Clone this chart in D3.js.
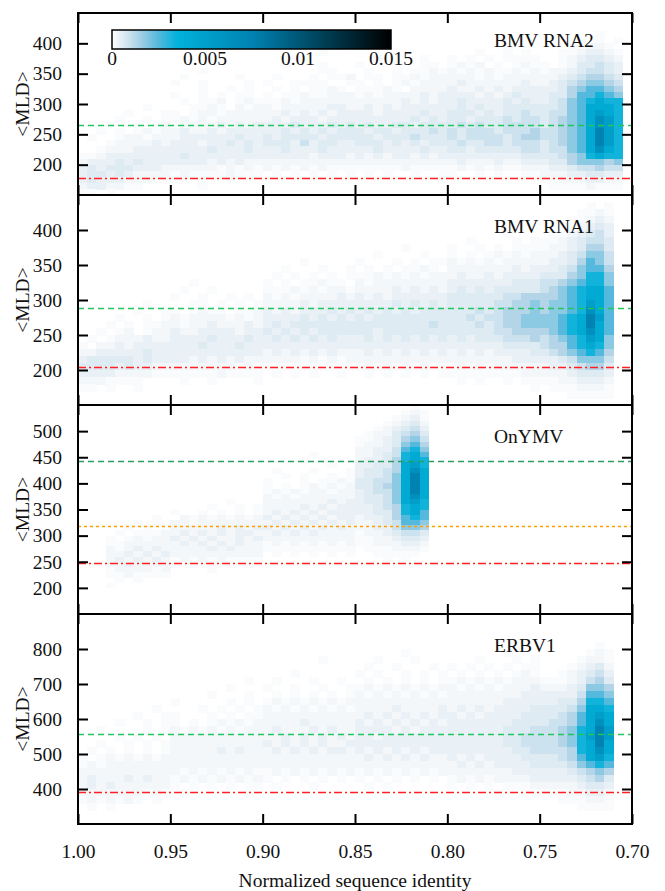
<!DOCTYPE html>
<html>
<head>
<meta charset="utf-8">
<script src="https://cdn.jsdelivr.net/npm/d3@7"></script>
<style>
body { margin: 0; background: #fff; }
svg text { font-family: "Liberation Serif", "Times New Roman", serif; fill: #111; }
</style>
</head>
<body>
<svg id="chart" width="665" height="891"></svg>
<script>
// x axis: normalized sequence identity, drawn reversed (1.00 on the left)
var xTicks = [1.00, 0.95, 0.90, 0.85, 0.80, 0.75, 0.70];
var binWidth = 0.005;   // one column of the 2D histogram

var panelNames = ["BMV RNA2", "BMV RNA1", "OnYMV", "ERBV1"];
var yDomains = [[150, 450], [150, 450], [150, 550], [300, 900]];
var yTicks = [
    [200, 250, 300, 350, 400],
    [200, 250, 300, 350, 400],
    [200, 250, 300, 350, 400, 450, 500],
    [400, 500, 600, 700, 800]
];
var rowSteps = [10, 10, 10, 20];   // <MLD> height of one histogram row

// horizontal reference lines (<MLD> values)
var redLines = [178, 205, 247, 391];
var greenLines = [266, 288, 443, 556];
var orangeLines = [null, null, 319, null];

// colour bar
var cbTicks = [0, 0.005, 0.01, 0.015];
var paletteStops = [0, 0.0002, 0.0006, 0.0013, 0.0025, 0.0035, 0.0075, 0.011, 0.015];
var paletteColors = ["#ffffff", "#f3f7fa", "#dfebf3", "#b3d5e7", "#55b8dd", "#00b2da", "#0082b2", "#00465f", "#000000"];

// density levels used in the row strings below
var levelChars = ".123456789abcdef";
var levelValues = [0, 0.0001, 0.0002, 0.0004, 0.0006, 0.0009, 0.0013, 0.0018, 0.0025, 0.0033, 0.0042, 0.0052, 0.0063, 0.0075, 0.0088, 0.0100];

// histogram rows, top row first; 60 columns from 1.00 down to 0.70 ("|" every 10 columns)
var rna2Rows = [
    "..........|..........|..........|..........|..........|..........",
    "..........|..........|..........|..........|..........|..........",
    "..........|..........|..........|..........|..........|..........",
    "..........|..........|..........|..........|..........|......1...",
    "..........|..........|..........|..........|..........|....1.1.1.",
    "..........|..........|..........|..........|......1...|...11221..",
    "..........|..........|......1...|..........|...1..1.1.|..1123321.",
    "..........|..........|....1.....|..1....1..|1.1.1.1111|..1234432.",
    "..........|..........|..1...1...|1...1..11.|1212.1.121|1.1244543.",
    "..........|...1......|......11..|.1..1.1121|2121211212|122345543.",
    "..........|.1.....1..|.1...1.112|.11.112122|2221212222|223456654.",
    "..........|1..1....1.|1..1111..1|1.1.121222|2322222232|234567765.",
    "..........|...1..1.1.|.1.1.1121.|11121.2222|3223232333|334678876.",
    "..........|1..1.1.11.|1.11211222|1212222323|3332323433|344688987.",
    "..........|.1.112.121|1121222222|2222232323|3433334343|345789a99.",
    ".......1..|..1121.212|2122222332|2323233333|3434334444|44578aaa9.",
    ".....1...1|1.12212222|2232323233|3323333433|4443434454|45578aba9.",
    "....1..1.1|1212122222|2323332333|3333334343|4434445455|45678acb9.",
    "...1..1.12|1222232323|3334333434|3433443444|4545445555|45678acb9.",
    "..1.1.1212|2322323333|3343434344|4344344454|5455545556|55678adb9.",
    ".1..122122|2333333433|4344443444|4434445444|5455554566|55678adb9.",
    "...1222232|3332334343|4443534433|4443434344|4544554555|45678adb9.",
    "..12223333|3333433343|3343334333|3343333433|4434444455|45578aca9.",
    "1123333333|3433333333|3333323332|3232332323|3333333344|445679a99.",
    "2333434333|3333232322|2222222222|2222222222|2322232233|344677767.",
    "3434443332|2222212121|2121212111|1111121111|1212121122|233455655.",
    "3443432222|1211112111|.1.1.1.1.1|.1.1..1..1|1..1.1..11|222334433.",
    "3433322211|11.1..1...|..........|.........1|..........|112223322.",
    "2332211...|...1......|..........|..........|..........|.11112111.",
    "11.1......|..........|..........|..........|..........|.........."
];

var rna1Rows = [
    "..........|..........|..........|..........|..........|..........",
    "..........|..........|..........|..........|..........|.....1.1..",
    "..........|..........|..........|..........|..........|....1121..",
    "..........|..........|..........|..........|..........|...11232..",
    "..........|..........|..........|..........|..........|..112343..",
    "..........|..........|..........|..........|......1...|.1123453..",
    "..........|..........|..........|..........|..1....1.1|11234554..",
    "..........|..........|..........|.....1....|1..1.1.111|12234664..",
    "..........|..........|..........|..1....1..|1.1.121212|22345775..",
    "..........|..........|....1.....|1...1.1.11|2121212222|23346875..",
    "..........|..........|..1...1..1|.1.1.1121.|2222222323|33457886..",
    "..........|..........|.1.1.1.1.1|1121212122|2322323333|44467997..",
    "..........|..1.......|1.1.11211.|2122222222|3333333444|55678997..",
    "..........|.1..1.....|1112121221|2222323232|3434344444|56789aa8..",
    "..........|1..1..1.1.|2121222232|3232333333|4444445566|66789aa8..",
    ".......1..|..11.1.1.1|2222323333|3333434343|4444455667|67789ba8..",
    "......1..1|1.1211.112|3232333434|3434343444|4445456667|67789ca8..",
    "....1..1.1|2122221212|3333434343|4344444444|4454556677|7789adb8..",
    "...1.1.112|2122322232|3434444444|4444444454|4445456677|7789ada8..",
    "..1.12.122|3223333233|4343434444|4434444444|4444455666|6789aca8..",
    ".1.1222322|3333433343|3434343433|3434343434|3434445556|56789ba7..",
    "1.22323333|3334333433|3333333333|3333333333|3333334444|56689a97..",
    "2233333433|3333333333|2323232322|2323232323|2323233334|45678986..",
    "3444443433|3323232322|2222121212|2222222222|2222222333|33457775..",
    "4444343322|2222222121|1111111111|1212121211|1212122222|23345664..",
    "3333222211|1111121111|.1.1.1..1.|.1.1.1.1.1|1111111122|22234443..",
    "2221111...|.1..1....1|..........|..........|.1.1..1.11|11223332..",
    "11.1..1...|..........|..........|..........|.........1|.1112221..",
    "..........|..........|..........|..........|..........|...11111..",
    "..........|..........|..........|..........|..........|.........."
];

var onymvRows = [
    "..........|..........|..........|......1...",
    "..........|..........|..........|.....121..",
    "..........|..........|..........|....1231..",
    "..........|..........|..........|...12342..",
    "..........|..........|..........|..123453..",
    "..........|..........|..........|.1224564..",
    "..........|..........|..........|11234675..",
    "..........|..........|..........|12234786..",
    "..........|..........|..........|22335897..",
    "..........|..........|.....1....|223459a8..",
    "..........|..........|....1.1...|233469a9..",
    "..........|..........|.......1..|33446ab9..",
    "..........|..........|.1...1...1|34456aca..",
    "..........|..........|..1.1..1.1|34457ada..",
    "..........|..........|1...1.1121|44557ada..",
    "..........|..........|1.1.121212|44567ada..",
    "..........|..........|1212122122|34557ada..",
    "..........|..........|2121222222|34457aca..",
    "..........|......1...|2222222323|34457ab9..",
    "..........|....1..1.1|2222323233|334569a9..",
    "..........|1..1.1.1.1|2323232333|334469a8..",
    "........1.|.212121212|3232323233|23346898..",
    "......1.1.|2212222222|2323232323|22345887..",
    ".....1.1.1|2222232323|3232323232|22335776..",
    "....1.1112|2323232332|2323232222|12234554..",
    "...1.12122|3232322323|2222222222|11223443..",
    "...1122222|2323232322|1212121212|11222332..",
    "...2123232|2222323222|1111111111|.1112221..",
    "...2232323|2222222222|.1.1.1.1.1|..11111...",
    "...2323232|1212121111|..........|...1.1....",
    "...2232222|1.1.1.1.1.|..........|..........",
    "...1222212|....1.....|..........|..........",
    "...1121111|..........|..........|..........",
    "....1.1...|..........|..........|..........",
    "...1......|..........|..........|..........",
    "", "", "", "", ""
];

var erbvRows = [
    "", "", "", "",
    "..........|..........|..........|..........|..........|......1...",
    "..........|..........|..........|.....1....|......1...|.....121..",
    "..........|..........|......1...|..1...1...|...1...1.1|....1221..",
    "..........|..........|..........|.1..1...1.|1.1.1.1.11|...12342..",
    "..........|..........|...1......|1.1..1.1.1|.1.1.1.121|..123453..",
    "..........|........1.|.1...1..1.|.1.1.1.1.1|1212121222|11123564..",
    "..........|......1...|1..1..1..1|1212121212|2121212223|22234776..",
    "..........|....1...1.|.1.1.1.1.1|2121212121|2222222233|33335887..",
    "..........|1.....1.1.|1212121212|2222222222|2222223333|33446998..",
    "........1.|...1.1.1.1|2121212121|2222322223|2323233334|44457aa9..",
    "......1..1|1...1.1.11|2222222222|2323232323|3232333344|44568aba..",
    "....1..1.1|1.1.121212|2222322222|3232323232|3333333444|45568aca..",
    "..1....1.1|2121212122|2322232322|3333232333|3333334445|55679adb..",
    "....1.1.1.|2222222222|2232323232|3323333333|3333334455|55679bdb..",
    "..1..1.1.1|2222222222|3232323223|3333333333|3333334455|55679ada..",
    ".1.1.1.1.1|2222232322|2323232332|3232323233|3333333445|55569aca..",
    "1.12121212|2222222222|2222222222|2323232322|3232333344|44568ab9..",
    "1212222222|2222222222|2222222222|2222222222|2323233334|44457898..",
    "2222222222|2121212121|1212121212|1212121212|2222222333|33345676..",
    "2322232322|1212121212|1.1.1.1.1.|1.1.1.1.1.|1212122223|33334564..",
    "2323222222|1.1.1.1.11|.1...1....|.1.1......|1.1.1.1112|22223443..",
    "2222222121|.1......1.|..........|..........|.....1..11|11122332..",
    "1212121.1.|..........|..........|..........|..........|..111221..",
    ".1.1......|..........|..........|..........|..........|....1111..",
    "", ""
];

var panelRows = [rna2Rows, rna1Rows, onymvRows, erbvRows];

// layout
var plotLeft = 78, plotRight = 632;
var panelTops = [13, 195, 405, 614];
var panelBottoms = [195, 405, 614, 824];
var fontSize = 19.5;

var svg = d3.select("#chart");

var x = d3.scaleLinear().domain([1.0, 0.7]).range([plotLeft, plotRight]);
var color = d3.scaleLinear().domain(paletteStops).range(paletteColors).clamp(true);

svg.append("defs").append("clipPath").attr("id", "plotclip")
    .append("rect").attr("x", plotLeft).attr("y", panelTops[0])
    .attr("width", plotRight - plotLeft).attr("height", panelBottoms[3] - panelTops[0]);

panelNames.forEach(function (name, p) {
    var top = panelTops[p], bottom = panelBottoms[p];
    var y = d3.scaleLinear().domain(yDomains[p]).range([bottom, top]);
    var step = rowSteps[p];
    var g = svg.append("g").attr("class", "panel");

    // turn the row strings into cells
    var cells = [];
    panelRows[p].forEach(function (row, r) {
        var s = row.replace(/\|/g, "");
        for (var c = 0; c < s.length && c < 60; c++) {
            var v = levelValues[levelChars.indexOf(s[c])];
            if (v > 0) {
                cells.push({ x0: 1 - c * binWidth, x1: 1 - (c + 1) * binWidth,
                             hi: yDomains[p][1] - r * step, lo: yDomains[p][1] - (r + 1) * step, v: v });
            }
        }
    });

    g.append("g")
        .attr("clip-path", "url(#plotclip)")
        .selectAll("rect")
        .data(cells)
        .enter()
        .append("rect")
        .attr("x", function (d) { return x(d.x0); })
        .attr("y", function (d) { return y(d.hi); })
        .attr("width", function (d) { return x(d.x1) - x(d.x0) + 0.6; })
        .attr("height", function (d) { return y(d.lo) - y(d.hi) + 0.6; })
        .attr("fill", function (d) { return color(d.v); })
        .attr("shape-rendering", "crispEdges");

    // reference lines
    var refs = [
        { v: redLines[p], c: "#ff2020", dash: "8,3,2,3" },
        { v: greenLines[p], c: p == 2 ? "#2a9d62" : "#22c55e", dash: "6,4" },
        { v: orangeLines[p], c: "#ffa000", dash: "3,3" }
    ].filter(function (d) { return d.v != null; });
    g.selectAll("line.ref")
        .data(refs)
        .enter()
        .append("line")
        .attr("class", "ref")
        .attr("x1", plotLeft).attr("x2", plotRight)
        .attr("y1", function (d) { return Math.round(y(d.v)) + 0.5; })
        .attr("y2", function (d) { return Math.round(y(d.v)) + 0.5; })
        .attr("stroke", function (d) { return d.c; })
        .attr("stroke-width", 1.3)
        .attr("stroke-dasharray", function (d) { return d.dash; });

    // axes, ticks pointing inward
    var left = g.append("g").attr("transform", "translate(" + plotLeft + ",0)")
        .call(d3.axisLeft(y).tickValues(yTicks[p]).tickSize(-10).tickSizeOuter(0).tickPadding(16));
    var right = g.append("g").attr("transform", "translate(" + plotRight + ",0)")
        .call(d3.axisRight(y).tickValues(yTicks[p]).tickSize(-10).tickSizeOuter(0).tickFormat(""));
    var topAx = g.append("g").attr("transform", "translate(0," + top + ")")
        .call(d3.axisTop(x).tickValues(xTicks).tickSize(-10).tickSizeOuter(0).tickFormat(""));
    var botAx = g.append("g").attr("transform", "translate(0," + bottom + ")")
        .call(d3.axisBottom(x).tickValues(xTicks).tickSize(-10).tickSizeOuter(0).tickPadding(20.5)
            .tickFormat(p == 3 ? d3.format(".2f") : ""));
    [left, right, topAx, botAx].forEach(function (a) {
        a.select(".domain").remove();
        a.selectAll("line").attr("stroke", "#000").attr("stroke-width", 2);
        a.selectAll("text").attr("font-family", null).style("font-size", fontSize + "px");
    });

    // frame
    g.append("rect")
        .attr("x", plotLeft).attr("y", top)
        .attr("width", plotRight - plotLeft).attr("height", bottom - top)
        .attr("fill", "none").attr("stroke", "#000").attr("stroke-width", 2);

    // y label
    g.append("text")
        .attr("transform", "translate(22," + ((top + bottom) / 2) + ") rotate(-90)")
        .attr("text-anchor", "middle")
        .attr("dy", "0.35em")
        .style("font-size", fontSize + "px")
        .text("<MLD>");

    // panel name
    g.append("text")
        .attr("x", 494)
        .attr("y", top + (p == 0 ? 34 : 38))
        .style("font-size", fontSize + "px")
        .text(name);
});

// colour bar in the top panel
var cb = d3.scaleLinear().domain([0, 0.015]).range([112, 391]);
var grad = svg.select("defs").append("linearGradient").attr("id", "cbgrad");
d3.range(0, 1.0001, 0.02).forEach(function (t) {
    grad.append("stop")
        .attr("offset", (t * 100) + "%")
        .attr("stop-color", color(t * 0.015));
});
svg.append("rect")
    .attr("x", cb(0)).attr("y", 30)
    .attr("width", cb(0.015) - cb(0)).attr("height", 19)
    .attr("fill", "url(#cbgrad)")
    .attr("stroke", "#000").attr("stroke-width", 1.5);
svg.selectAll("text.cb")
    .data(cbTicks)
    .enter()
    .append("text")
    .attr("class", "cb")
    .attr("x", function (d) { return cb(d); })
    .attr("y", 65)
    .attr("text-anchor", "middle")
    .style("font-size", fontSize + "px")
    .text(function (d) { return d; });

// x axis title
svg.append("text")
    .attr("x", (plotLeft + plotRight) / 2)
    .attr("y", 887)
    .attr("text-anchor", "middle")
    .style("font-size", fontSize + "px")
    .text("Normalized sequence identity");
</script>
</body>
</html>
